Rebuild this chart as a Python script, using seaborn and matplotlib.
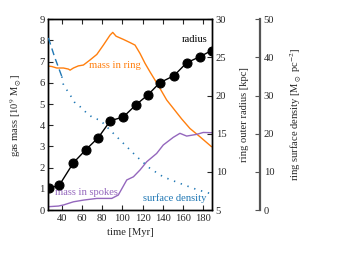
import matplotlib
matplotlib.use("Agg")
import matplotlib.pyplot as plt
import seaborn as sns

# ---- data ----
radius_t = [27.4, 37.6, 51.5, 63.8, 76.2, 88.1, 101.0, 113.6, 125.4, 137.3, 151.2, 163.8, 177.0, 188.5]
radius_kpc = [7.84, 8.28, 11.2, 12.9, 14.5, 16.7, 17.2, 18.8, 20.1, 21.7, 22.6, 24.3, 25.1, 25.9]

ring_t = [26.7, 30.1, 35.0, 41.6, 46.5, 48.2, 51.5, 56.4, 61.4, 68.0, 74.7, 81.2, 87.8, 90.5,
          93.8, 101.0, 107.6, 112.6, 117.5, 122.5, 127.4, 132.4, 137.3, 144.0, 150.5,
          158.8, 167.0, 176.9, 188.4]
ring_mass = [6.79, 6.77, 6.70, 6.70, 6.65, 6.60, 6.70, 6.80, 6.84, 7.08, 7.34, 7.78, 8.25, 8.38,
             8.20, 8.05, 7.90, 7.78, 7.39, 6.92, 6.52, 6.13, 5.74, 5.19, 4.80,
             4.30, 3.85, 3.46, 2.99]

spoke_t = [26.7, 36.6, 41.6, 51.5, 61.4, 74.7, 89.5, 96.0, 104.4, 111.0, 117.5, 124.2, 134.0,
           140.6, 150.5, 157.1, 163.8, 173.6, 180.2, 188.4]
spoke_mass = [0.16, 0.19, 0.24, 0.39, 0.47, 0.55, 0.55, 0.71, 1.42, 1.57, 1.89, 2.28, 2.67,
              3.07, 3.43, 3.62, 3.49, 3.57, 3.66, 3.65]

sd_early_t = [26.7, 33.0, 40.0]
sd_early = [45.1, 40.0, 35.0]
sd_late_t = [40.0, 41.6, 48.2, 53.2, 58.1, 64.8, 71.3, 77.9, 91.1, 104.4, 114.3, 127.5,
             140.6, 157.1, 173.6, 185.1, 188.5]
sd_late = [35.0, 32.8, 30.2, 28.0, 27.1, 25.4, 24.1, 23.6, 20.1, 16.6, 14.0, 10.9,
           8.7, 7.0, 5.4, 4.5, 4.3]

x_ticks = [40, 60, 80, 100, 120, 140, 160, 180]
mass_ticks = [0, 1, 2, 3, 4, 5, 6, 7, 8, 9]
radius_ticks = [5, 10, 15, 20, 25, 30]
sd_ticks = [0, 10, 20, 30, 40, 50]

# ---- style ----
sns.set_style("ticks")
plt.rcParams["font.family"] = ["Liberation Serif", "DejaVu Serif"]
plt.rcParams["mathtext.fontset"] = "stix"
FS = 7.6
plt.rcParams["font.size"] = FS

orange = "#ff7f0e"
blue = "#1f77b4"
purple = "#9467bd"

fig = plt.figure(figsize=(3.46, 2.6), dpi=100)
ax = fig.add_axes([0.139, 0.192, 0.474, 0.734])

sns.lineplot(x=ring_t, y=ring_mass, ax=ax, color=orange, lw=1)
sns.lineplot(x=spoke_t, y=spoke_mass, ax=ax, color=purple, lw=1)
ax.set_xlim(26.4, 189)
ax.set_ylim(0, 9)
ax.set_xticks(x_ticks)
ax.set_yticks(mass_ticks)
ax.tick_params(direction="in", top=True, right=False, length=3.5, width=0.8, labelsize=FS, pad=2.5)
ax.set_xlabel("time [Myr]", fontsize=FS, labelpad=4)
ax.set_ylabel(r"gas mass [10$^9$ M$_\odot$]", fontsize=FS, labelpad=12)
for s in ax.spines.values():
    s.set_linewidth(1)
    s.set_color("black")

ax2 = ax.twinx()
sns.lineplot(x=radius_t, y=radius_kpc, ax=ax2, color="black", lw=1, marker="o",
             markersize=6.5, markeredgecolor="black")
ax2.set_ylim(5, 30)
ax2.set_yticks(radius_ticks)
ax2.tick_params(direction="in", length=3.5, width=0.8, labelsize=FS, pad=2.5)
ax2.set_ylabel("ring outer radius [kpc]", fontsize=FS, labelpad=10)
for s in ax2.spines.values():
    s.set_linewidth(1)
    s.set_color("black")

ax3 = ax.twinx()
sns.lineplot(x=sd_early_t, y=sd_early, ax=ax3, color=blue, lw=1, linestyle=(0, (5, 3)))
sns.lineplot(x=sd_late_t, y=sd_late, ax=ax3, color=blue, lw=1.2, linestyle=(0, (0.8, 3.5)))
ax3.set_ylim(0, 50)
ax3.set_yticks(sd_ticks)
ax3.spines["right"].set_position(("axes", 1.293))
ax3.spines["right"].set_color("#555555")
ax3.spines["right"].set_linewidth(1.6)
for k in ["left", "top", "bottom"]:
    ax3.spines[k].set_visible(False)
ax3.tick_params(direction="in", length=3.5, width=0.8, color="#555555", labelsize=FS, pad=2.5)
ax3.set_ylabel(r"ring surface density [M$_\odot$ pc$^{-2}$]", fontsize=FS, labelpad=10)
ax3.set_xlim(26.4, 189)

ax.text(92.5, 6.84, "mass in ring", color=orange, ha="center", va="center", fontsize=FS)
ax.text(64.1, 0.82, "mass in spokes", color=purple, ha="center", va="center", fontsize=FS)
ax2.text(172, 27.3, "radius", color="black", ha="center", va="center", fontsize=FS)
ax3.text(152.3, 3.15, "surface density", color=blue, ha="center", va="center", fontsize=FS)

fig.savefig("out.png", dpi=100)
